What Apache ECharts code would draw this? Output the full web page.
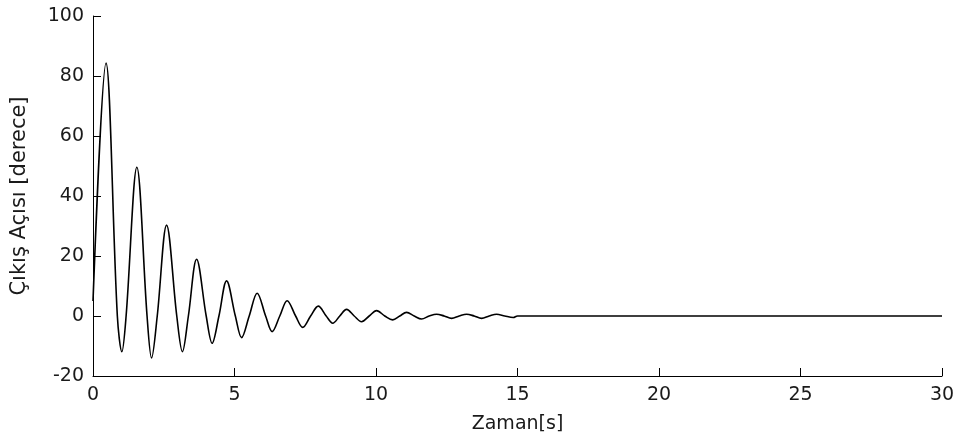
<!DOCTYPE html>
<html>
<head>
<meta charset="utf-8">
<title>Çıkış Açısı</title>
<script src="https://cdn.jsdelivr.net/npm/echarts@6/dist/echarts.min.js"></script>
<style>
  html, body { margin: 0; padding: 0; background: #fff; }
  #chart { width: 960px; height: 445px; }
</style>
</head>
<body>
<div id="chart"></div>
<script>
// Damped step response: output angle (degrees) versus time (s)
const times = [
  0, 0.46, 0.86, 1.02, 1.17, 1.55, 1.91, 2.07, 2.27, 2.60, 2.96, 3.16,
  3.37, 3.66, 4.00, 4.21, 4.45, 4.72, 5.03, 5.25, 5.52, 5.80, 6.10, 6.33,
  6.60, 6.86, 7.16, 7.41, 7.69, 7.96, 8.24, 8.47, 8.72, 8.96, 9.23, 9.49,
  9.76, 10.02, 10.31, 10.59, 10.84, 11.08, 11.35, 11.61, 11.88, 12.14,
  12.41, 12.67, 12.94, 13.20, 13.47, 13.73, 14.00, 14.26, 14.55, 14.85,
  15.0, 30.0
];
const angles = [
  5, 84.3, 0, -11.9, 0, 49.6, 0, -14.0, 0, 30.3, 0, -11.9,
  0, 18.9, 0, -9.1, 0, 11.7, 0, -7.2, 0, 7.6, 0, -5.2,
  0, 5.1, 0, -3.8, 0, 3.3, 0, -2.4, 0, 2.2, 0, -1.9,
  0, 1.8, 0, -1.3, 0, 1.2, 0, -1.0, 0, 0.6,
  0, -0.8, 0, 0.6, 0, -0.8, 0, 0.6, 0, -0.5,
  0, 0
];
const xTicks = { min: 0, max: 30, step: 5 };
const yTicks = { min: -20, max: 100, step: 20 };

const points = times.map((t, i) => [t, angles[i]]);

const textColor = '#1a1a1a';
const fontFamily = 'DejaVu Sans';

const chart = echarts.init(document.getElementById('chart'), null, { renderer: 'canvas' });
chart.setOption({
  animation: false,
  backgroundColor: '#ffffff',
  grid: { left: 93, right: 18, top: 16, bottom: 69, containLabel: false },
  xAxis: {
    type: 'value',
    min: xTicks.min, max: xTicks.max, interval: xTicks.step,
    name: 'Zaman[s]',
    nameLocation: 'middle',
    nameGap: 39,
    nameTextStyle: { color: textColor, fontSize: 19, fontFamily },
    axisLine: { show: true, onZero: false, lineStyle: { color: '#000', width: 1 } },
    axisTick: { show: true, inside: true, length: 8, lineStyle: { color: '#000', width: 1 } },
    axisLabel: { color: textColor, fontSize: 19, fontFamily, margin: 10 },
    splitLine: { show: false }
  },
  yAxis: {
    type: 'value',
    min: yTicks.min, max: yTicks.max, interval: yTicks.step,
    name: 'Çıkış Açısı [derece]',
    nameLocation: 'middle',
    nameGap: 63,
    nameTextStyle: { color: textColor, fontSize: 21, fontFamily },
    axisLine: { show: true, lineStyle: { color: '#000', width: 1 } },
    axisTick: { show: true, inside: true, length: 8, lineStyle: { color: '#000', width: 1 } },
    axisLabel: { color: textColor, fontSize: 19, fontFamily, margin: 9 },
    splitLine: { show: false }
  },
  series: [{
    type: 'line',
    data: points,
    showSymbol: false,
    smooth: 0.35,
    lineStyle: { color: '#000', width: 1.6 },
    z: 3
  }]
});
</script>
</body>
</html>
